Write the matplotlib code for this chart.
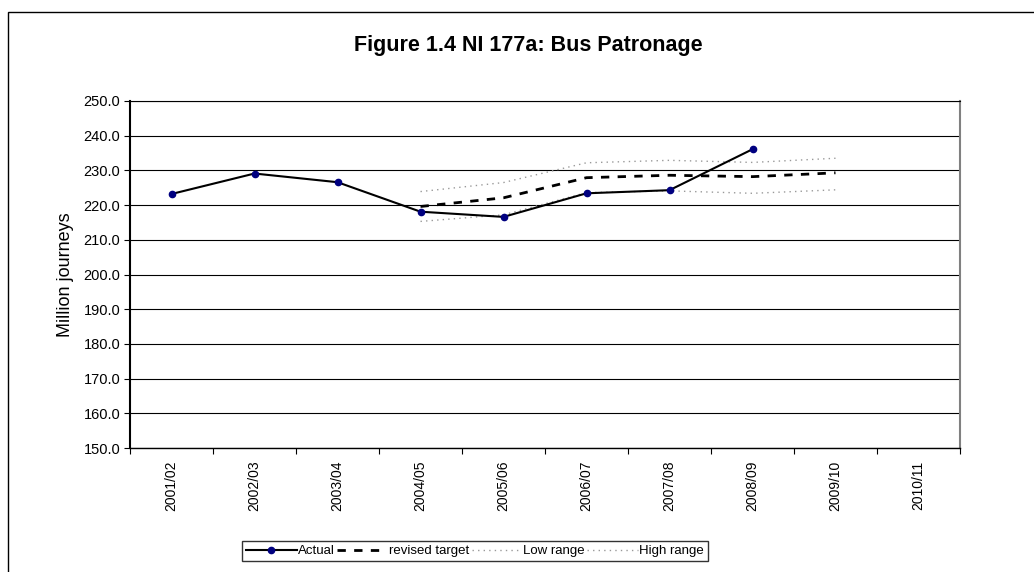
import matplotlib
matplotlib.use("Agg")
import matplotlib.pyplot as plt
from matplotlib.patches import Rectangle
import numpy as np

plt.rcParams['font.family'] = ['Liberation Sans', 'DejaVu Sans']

years = ["2001/02", "2002/03", "2003/04", "2004/05", "2005/06",
         "2006/07", "2007/08", "2008/09", "2009/10", "2010/11"]
actual = [223.2, 229.1, 226.6, 218.1, 216.6, 223.4, 224.3, 236.1]
revised_target = [219.6, 222.1, 227.9, 228.6, 228.2, 229.3]
low_range = [215.3, 217.2, 223.6, 224.1, 223.4, 224.4]
high_range = [223.9, 226.5, 232.2, 232.9, 232.3, 233.5]
target_start = 3  # targets begin at 2004/05

def plot_chart():
    fig = plt.figure(figsize=(10.34, 5.72), dpi=100)
    # chart area border (only left/top visible in the source)
    fig.add_artist(Rectangle((8 / 1034, -0.1), 1.2, 1.1 - 12 / 572,
                             transform=fig.transFigure, fill=False,
                             edgecolor='black', linewidth=1.0))

    ax = fig.add_axes([130 / 1034, 1 - 448 / 572, 830 / 1034, 347 / 572])

    x = np.arange(len(years))
    xt = np.arange(target_start, target_start + len(revised_target))

    ax.plot(xt, low_range, color='#999999', linestyle=(0, (1, 3)), linewidth=1.0,
            label='Low range')
    ax.plot(xt, high_range, color='#999999', linestyle=(0, (1, 3)), linewidth=1.0,
            label='High range')
    ax.plot(xt, revised_target, color='black', linestyle=(0, (3, 3)), linewidth=2.0,
            label='revised target')
    ax.plot(x[:len(actual)], actual, color='black', linewidth=1.5, marker='o',
            markersize=4.5, markerfacecolor='#000080', markeredgecolor='#000080',
            label='Actual')

    ax.set_xlim(-0.5, len(years) - 0.5)
    ax.set_ylim(150, 250)
    ax.set_yticks(np.arange(150, 251, 10))
    ax.set_yticklabels([f"{v:.1f}" for v in np.arange(150, 251, 10)], fontsize=10.5)
    ax.yaxis.grid(True, color='black', linewidth=0.8)
    ax.set_axisbelow(True)

    ax.set_xticks(np.arange(-0.5, len(years), 1))
    ax.set_xticklabels([])
    ax.set_xticks(x, minor=True)
    ax.set_xticklabels(years, minor=True, rotation=90, fontsize=10)
    ax.tick_params(axis='x', which='minor', length=0, pad=9)
    ax.tick_params(axis='x', which='major', length=4, direction='out')
    ax.tick_params(axis='y', length=4, direction='out', pad=3)

    ax.set_ylabel('Million journeys', fontsize=13, labelpad=7)
    for side in ['left', 'bottom', 'top']:
        ax.spines[side].set_color('black')
    ax.spines['left'].set_linewidth(1.5)
    ax.spines['bottom'].set_linewidth(1.0)
    ax.spines['right'].set_color('#808080')
    ax.spines['right'].set_linewidth(1.5)

    fig.text(528 / 1034, 1 - 45 / 572, 'Figure 1.4 NI 177a: Bus Patronage',
             ha='center', va='center', fontsize=15.5, fontweight='bold')

    handles, labels = ax.get_legend_handles_labels()
    order = [3, 2, 0, 1]
    leg = fig.legend([handles[i] for i in order], [labels[i] for i in order],
                     loc='center', bbox_to_anchor=(475 / 1034, 1 - 551 / 572),
                     ncol=4, frameon=True, fancybox=False, fontsize=9.5,
                     handlelength=3.8, handletextpad=0.1, columnspacing=0.2,
                     borderpad=0.3, borderaxespad=0)
    leg.get_frame().set_edgecolor('black')
    leg.get_frame().set_linewidth(1.0)

    fig.savefig('out.png', dpi=100)

if __name__ == "__main__":
    plot_chart()
